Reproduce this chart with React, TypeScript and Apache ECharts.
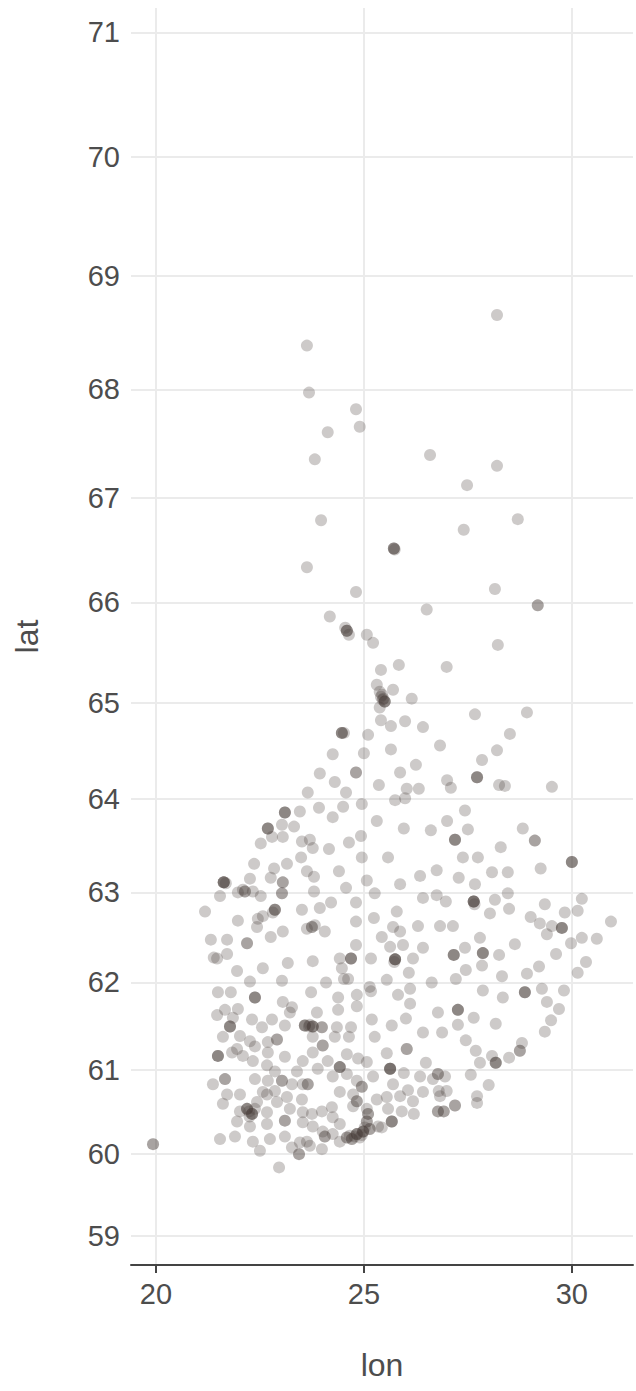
import React, { useEffect, useRef } from "react";
import * as echarts from "echarts";

// Axis ranges (degrees) and tick values
const lonRange = [19.4, 31.47];
const latRange = [58.64, 71.19];
const lonTicks = [20, 25, 30];
const latTicks = [59, 60, 61, 62, 63, 64, 65, 66, 67, 68, 69, 70, 71];

// Observed stations: [lon, lat]; repeated entries are overlapping points
const points: number[][] = [
  [28.20, 68.66], [23.63, 68.39], [23.68, 67.97], [24.81, 67.82], [24.90, 67.66], [24.13, 67.61],
  [23.82, 67.36], [26.59, 67.40], [28.20, 67.30], [27.48, 67.12], [28.70, 66.80], [27.40, 66.70],
  [23.97, 66.79], [23.63, 66.34], [25.72, 66.52], [25.72, 66.52], [25.72, 66.52], [25.74, 66.51], [24.81, 66.10],
  [28.15, 66.13], [29.18, 65.97], [29.18, 65.97], [26.51, 65.93], [24.18, 65.86],
  [24.59, 65.72], [24.59, 65.72], [24.59, 65.72], [24.55, 65.75], [24.64, 65.68], [25.07, 65.68], [25.22, 65.60],
  [28.22, 65.58], [25.84, 65.38], [26.99, 65.36], [25.41, 65.33],
  [25.31, 65.18], [25.38, 65.11], [25.41, 65.06], [25.50, 65.01], [25.50, 65.01], [25.50, 65.01],
  [25.47, 65.04], [25.44, 65.08], [25.38, 64.95], [25.70, 65.13], [25.45, 65.03], [26.15, 65.04],
  [25.41, 64.82], [25.65, 64.76], [25.99, 64.81], [26.42, 64.75], [27.67, 64.88], [28.92, 64.90], [28.51, 64.68],
  [24.47, 64.69], [24.47, 64.69], [24.47, 64.69], [24.52, 64.69], [25.10, 64.67], [24.25, 64.47], [25.00, 64.48],
  [25.65, 64.52], [26.83, 64.56], [28.20, 64.51], [27.84, 64.41],
  [23.94, 64.27], [24.81, 64.28], [24.81, 64.28], [24.30, 64.18], [25.36, 64.15], [26.25, 64.36],
  [25.87, 64.28], [27.72, 64.23], [27.72, 64.23], [27.72, 64.23], [27.00, 64.20], [27.09, 64.12],
  [26.03, 64.11], [26.32, 64.11], [28.25, 64.15], [28.39, 64.14], [29.52, 64.13], [23.65, 64.07],
  [24.57, 64.07], [25.75, 63.99], [25.99, 64.01],
  [23.46, 63.87], [23.10, 63.86], [23.10, 63.86], [23.10, 63.86], [23.92, 63.91], [24.50, 63.92],
  [24.95, 63.95], [27.43, 63.88], [27.00, 63.77], [24.25, 63.81], [25.31, 63.77], [25.96, 63.69],
  [26.61, 63.67], [27.50, 63.68], [28.82, 63.69], [27.19, 63.57], [27.19, 63.57], [27.19, 63.57],
  [29.11, 63.56], [29.11, 63.56], [28.29, 63.49], [25.58, 63.38], [27.38, 63.38], [27.74, 63.38],
  [30.00, 63.33], [30.00, 63.33], [30.00, 63.33], [29.25, 63.26], [26.35, 63.18], [26.75, 63.24],
  [27.28, 63.16], [28.08, 63.22], [28.46, 63.22], [25.87, 63.09], [27.67, 63.09],
  [26.42, 62.94], [26.75, 62.97], [26.97, 62.90], [27.64, 62.90], [27.64, 62.90], [27.64, 62.90],
  [27.64, 62.90], [27.66, 62.87], [28.15, 62.92], [28.46, 62.99], [25.79, 62.79], [28.03, 62.77], [28.49, 62.82],
  [29.35, 62.87], [30.24, 62.93], [30.14, 62.80], [29.83, 62.78], [30.94, 62.68], [29.01, 62.73],
  [29.23, 62.66], [29.76, 62.61], [29.76, 62.61], [29.76, 62.61], [29.52, 62.63], [25.70, 62.62],
  [25.87, 62.57], [25.43, 62.51], [26.30, 62.63], [26.83, 62.63], [27.14, 62.63], [29.40, 62.54],
  [29.98, 62.44], [30.24, 62.50], [30.60, 62.49], [27.79, 62.50], [28.63, 62.43], [25.94, 62.42],
  [26.42, 62.39], [25.63, 62.40], [25.75, 62.26], [25.75, 62.26], [25.75, 62.26], [25.75, 62.26],
  [25.73, 62.23], [26.18, 62.27], [27.16, 62.31], [27.16, 62.31], [27.16, 62.31], [27.43, 62.39], [27.86, 62.33],
  [27.86, 62.33], [27.86, 62.33], [28.25, 62.31], [29.62, 62.32], [30.34, 62.23], [26.08, 62.11],
  [27.45, 62.14], [27.84, 62.19], [28.32, 62.07], [28.92, 62.10], [29.21, 62.18], [30.14, 62.11],
  [25.55, 62.03], [26.63, 62.00], [27.21, 62.04], [26.11, 61.93], [25.82, 61.86], [27.86, 61.91],
  [28.87, 61.89], [28.87, 61.89], [28.87, 61.89], [29.28, 61.93], [29.81, 61.91], [28.34, 61.83],
  [22.69, 63.69], [22.69, 63.69], [22.69, 63.69], [23.03, 63.73], [23.32, 63.71], [22.79, 63.60],
  [23.05, 63.60], [22.52, 63.53], [23.51, 63.55], [23.70, 63.57], [23.77, 63.48], [24.16, 63.47],
  [24.64, 63.54], [24.93, 63.61], [23.49, 63.38], [24.95, 63.38], [22.36, 63.31], [23.15, 63.31],
  [22.84, 63.26], [23.63, 63.23], [24.40, 63.23], [22.26, 63.15], [22.76, 63.16], [23.80, 63.17],
  [23.05, 63.11], [23.05, 63.11], [21.63, 63.11], [21.63, 63.11], [21.63, 63.11], [21.63, 63.11],
  [21.68, 63.10], [25.07, 63.13], [22.09, 63.03], [22.14, 63.01], [22.14, 63.01], [21.97, 63.00], [22.33, 63.01],
  [22.52, 62.96], [21.54, 62.96], [23.03, 62.99], [23.03, 62.99], [23.80, 63.01], [24.57, 63.05],
  [25.26, 62.99], [21.18, 62.79], [22.86, 62.81], [22.86, 62.81], [22.86, 62.81], [22.81, 62.78],
  [23.51, 62.81], [23.94, 62.83], [24.21, 62.89], [24.81, 62.89], [21.97, 62.69], [22.45, 62.71],
  [22.43, 62.62], [22.57, 62.74], [23.63, 62.60], [23.75, 62.62], [23.75, 62.62], [23.82, 62.64],
  [24.81, 62.68], [25.24, 62.72], [23.05, 62.57], [24.06, 62.57], [21.32, 62.48], [21.71, 62.48],
  [22.19, 62.44], [22.19, 62.44], [22.76, 62.51], [24.81, 62.42], [21.39, 62.28], [21.47, 62.27],
  [21.71, 62.32], [23.17, 62.22], [23.77, 62.24], [24.42, 62.27], [24.69, 62.27], [24.69, 62.27],
  [24.69, 62.27], [25.17, 62.27], [21.95, 62.13], [22.57, 62.16], [24.47, 62.16], [24.52, 62.04],
  [24.62, 62.04], [23.03, 62.02], [22.26, 62.01], [24.09, 62.00], [25.14, 61.95], [25.17, 61.90],
  [21.49, 61.89], [21.80, 61.89], [22.38, 61.83], [22.38, 61.83], [22.38, 61.83], [23.73, 61.89],
  [24.38, 61.83], [24.83, 61.86],
  [23.05, 61.78], [23.27, 61.72], [23.22, 61.66], [24.38, 61.69], [24.83, 61.73], [21.47, 61.63],
  [21.66, 61.69], [21.97, 61.70], [21.85, 61.60], [21.78, 61.50], [21.78, 61.50], [21.78, 61.50],
  [22.31, 61.58], [22.79, 61.58], [22.55, 61.49], [23.10, 61.51], [23.58, 61.51], [23.58, 61.51],
  [23.58, 61.51], [23.77, 61.50], [23.77, 61.50], [23.77, 61.50], [23.68, 61.50], [23.70, 61.52],
  [23.99, 61.49], [23.99, 61.49],
  [23.87, 61.66], [24.35, 61.49], [24.69, 61.49], [25.19, 61.58], [21.61, 61.38], [22.02, 61.39],
  [22.26, 61.33], [22.38, 61.27], [22.91, 61.35], [22.91, 61.35], [22.69, 61.32], [23.77, 61.38],
  [24.01, 61.28], [24.01, 61.28], [24.30, 61.38], [24.64, 61.38], [25.26, 61.38], [21.49, 61.16],
  [21.49, 61.16], [21.49, 61.16], [21.83, 61.20], [21.95, 61.24], [22.09, 61.16], [22.33, 61.10],
  [22.69, 61.20], [23.10, 61.15], [23.53, 61.10], [23.77, 61.20], [24.13, 61.10], [24.59, 61.18],
  [24.86, 61.13], [25.07, 61.09], [25.63, 61.01], [25.63, 61.01], [25.63, 61.01], [25.63, 61.01],
  [24.42, 61.03], [24.42, 61.03], [24.42, 61.03], [22.67, 61.05], [22.86, 60.98], [23.39, 60.98],
  [23.89, 61.01], [21.37, 60.83], [21.66, 60.89], [21.66, 60.89], [22.38, 60.89], [22.69, 60.87],
  [23.03, 60.87], [23.03, 60.87], [23.27, 60.83], [23.53, 60.83], [23.65, 60.83], [23.65, 60.83],
  [24.25, 60.92], [24.59, 60.95], [24.83, 60.87], [24.95, 60.80], [24.95, 60.80], [25.22, 60.92],
  [21.71, 60.71], [22.02, 60.71], [22.57, 60.74], [22.67, 60.71], [22.86, 60.75], [24.42, 60.74],
  [24.74, 60.71], [21.61, 60.60], [22.43, 60.62], [23.15, 60.68], [23.51, 60.65], [22.91, 60.62],
  [24.83, 60.63], [24.83, 60.63], [25.31, 60.65], [22.19, 60.54], [22.19, 60.54], [22.19, 60.54],
  [22.31, 60.48], [22.31, 60.48], [22.31, 60.48], [22.25, 60.45], [22.24, 60.51], [22.02, 60.51],
  [22.38, 60.54], [22.67, 60.50],
  [23.22, 60.54], [23.53, 60.50], [23.75, 60.48], [23.99, 60.51], [24.23, 60.56], [24.25, 60.44],
  [24.74, 60.57], [25.07, 60.54], [25.10, 60.48], [25.10, 60.48], [21.95, 60.39], [22.26, 60.33],
  [22.67, 60.36], [23.10, 60.40], [23.10, 60.40], [23.53, 60.38], [23.77, 60.33], [24.42, 60.36],
  [25.34, 60.33], [21.54, 60.18], [21.90, 60.21], [22.33, 60.15], [22.74, 60.18], [23.10, 60.21],
  [23.46, 60.14], [23.63, 60.15], [23.70, 60.10], [24.01, 60.27], [24.06, 60.21], [24.06, 60.21],
  [24.25, 60.24], [24.59, 60.20], [24.59, 60.20], [24.83, 60.24], [24.83, 60.24], [24.83, 60.24],
  [24.98, 60.27], [24.98, 60.27], [24.98, 60.27], [25.14, 60.30], [25.14, 60.30], [25.07, 60.39],
  [25.07, 60.39], [24.42, 60.15], [24.71, 60.18], [24.71, 60.18], [24.90, 60.20], [24.95, 60.23],
  [24.78, 60.21], [25.02, 60.32], [24.66, 60.22],
  [22.50, 60.04], [23.27, 60.08],
  [23.44, 60.00], [23.44, 60.00], [23.99, 60.06], [22.96, 59.84], [19.93, 60.12], [19.93, 60.12],
  [26.11, 61.76], [26.78, 61.66], [27.26, 61.69], [27.26, 61.69], [27.26, 61.69], [27.64, 61.60],
  [29.40, 61.78], [29.69, 61.70], [29.50, 61.57], [29.35, 61.44], [26.01, 61.59], [25.67, 61.51],
  [26.42, 61.43], [26.88, 61.43], [27.26, 61.52], [28.17, 61.53], [27.45, 61.34], [25.55, 61.19],
  [26.03, 61.24], [26.03, 61.24], [27.69, 61.22], [28.08, 61.16], [28.17, 61.08], [28.17, 61.08],
  [28.17, 61.08], [27.79, 61.08], [28.49, 61.14], [28.80, 61.31], [28.75, 61.22], [28.75, 61.22],
  [25.96, 60.96], [26.49, 61.08], [26.66, 60.89], [26.78, 60.95], [26.78, 60.95], [26.95, 60.92],
  [26.35, 60.92], [27.57, 60.94], [28.00, 60.82], [25.70, 60.83], [26.06, 60.76], [26.42, 60.74],
  [26.80, 60.75], [26.99, 60.75], [26.83, 60.69], [27.72, 60.69], [27.72, 60.61], [25.55, 60.68],
  [25.87, 60.69], [26.18, 60.63], [25.58, 60.54], [25.91, 60.51], [26.20, 60.48], [27.19, 60.58],
  [27.19, 60.58], [26.78, 60.51], [26.78, 60.51], [26.92, 60.51], [26.92, 60.51], [25.67, 60.39],
  [25.67, 60.39], [25.67, 60.39], [25.43, 60.32],
];

// Mercator projection of latitude (the chart uses a map projection)
const merc = (lat: number) => Math.log(Math.tan(Math.PI / 4 + (lat * Math.PI) / 360));
const invMerc = (m: number) => ((2 * Math.atan(Math.exp(m)) - Math.PI / 2) * 180) / Math.PI;

const FONT = "'Liberation Sans', Arial, sans-serif";
const TEXT = "#4d4d4d";
const GRID = "#ebebeb";

export default function App() {
  const ref = useRef<HTMLDivElement>(null);
  useEffect(() => {
    if (!ref.current) return;
    const chart = echarts.init(ref.current, null, { renderer: "svg" });
    const latCustom = latTicks.map(merc);
    chart.setOption({
      animation: false,
      backgroundColor: "#ffffff",
      textStyle: { fontFamily: FONT },
      grid: { left: 131, top: 8, right: 3, bottom: 126, containLabel: false },
      xAxis: {
        type: "value",
        min: lonRange[0],
        max: lonRange[1],
        name: "lon",
        nameLocation: "middle",
        nameGap: 84,
        nameTextStyle: { fontSize: 32, color: TEXT, fontFamily: FONT },
        axisLine: { show: true, lineStyle: { color: "#444444", width: 2 } },
        axisTick: { show: true, length: 8, customValues: lonTicks, lineStyle: { color: "#444444", width: 2 } },
        axisLabel: { customValues: lonTicks, fontSize: 29, color: TEXT, margin: 14, fontFamily: FONT },
        splitLine: { show: true, lineStyle: { color: GRID, width: 2 } },
      },
      yAxis: {
        type: "value",
        min: merc(latRange[0]),
        max: merc(latRange[1]),
        name: "lat",
        nameLocation: "middle",
        nameRotate: 90,
        nameGap: 88,
        nameTextStyle: { fontSize: 32, color: TEXT, fontFamily: FONT },
        axisLine: { show: false },
        axisTick: { show: false, customValues: latCustom },
        axisLabel: {
          customValues: latCustom,
          fontSize: 29,
          color: TEXT,
          margin: 11,
          fontFamily: FONT,
          formatter: (v: number) => String(Math.round(invMerc(v))),
        },
        splitLine: { show: true, lineStyle: { color: GRID, width: 2 } },
      },
      series: [
        {
          type: "scatter",
          symbol: "circle",
          symbolSize: 12,
          itemStyle: { color: "rgba(72,60,54,0.34)", borderWidth: 0 },
          data: points.map((p) => [p[0], merc(p[1])]),
        },
      ],
    });
    return () => chart.dispose();
  }, []);
  return (
    <div
      ref={ref}
      style={{ position: "absolute", left: 0, top: 0, width: 636, height: 1391 }}
    />
  );
}
